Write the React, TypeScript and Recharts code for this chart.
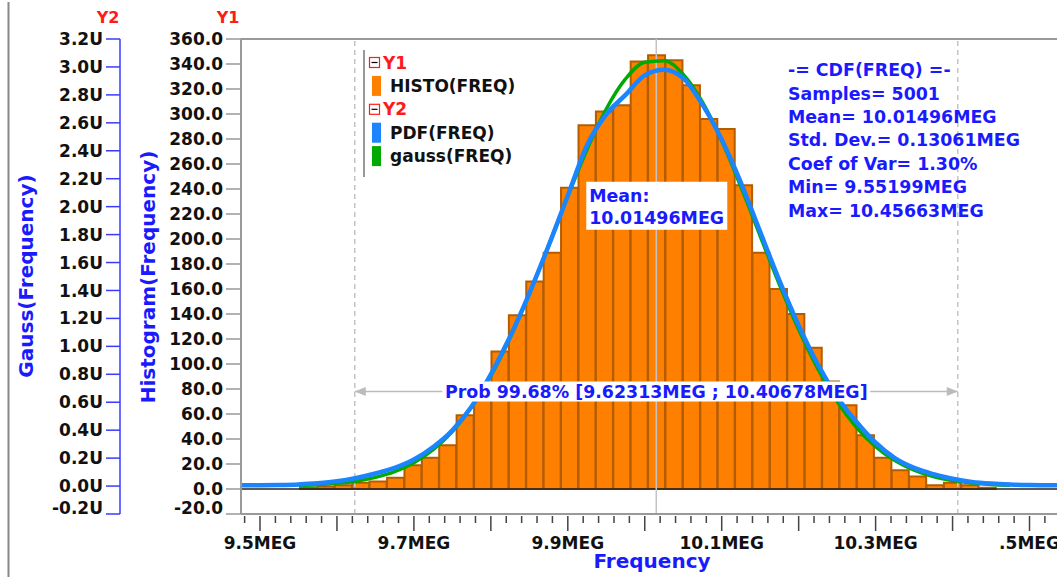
import React from 'react';
import { ComposedChart, Bar, Line, XAxis, YAxis, ReferenceLine, ReferenceDot } from 'recharts';

// Histogram of 5001 frequency samples: 40 bins (centers in MEG) and their counts
const binCenters = [
  9.5633, 9.5859, 9.6085, 9.6311, 9.6537, 9.6764, 9.699, 9.7216, 9.7442, 9.7668,
  9.7895, 9.8121, 9.8347, 9.8573, 9.8799, 9.9025, 9.9252, 9.9478, 9.9704, 9.993,
  10.0156, 10.0382, 10.0609, 10.0835, 10.1061, 10.1287, 10.1513, 10.174, 10.1966, 10.2192,
  10.2418, 10.2644, 10.287, 10.3097, 10.3323, 10.3549, 10.3775, 10.4001, 10.4228, 10.4454,
];
const binCounts = [
  1, 2, 3, 5, 6, 9, 19, 25, 35, 59,
  80, 110, 139, 166, 189, 241, 291, 302, 307, 342,
  347, 343, 323, 296, 288, 243, 189, 160, 140, 113,
  86, 67, 43, 25, 15, 10, 3, 5, 3, 1,
];

// PDF(FREQ) estimate, in U (1e-6 per Hz)
const pdfFreq = [
  9.475, 9.5, 9.525, 9.55, 9.575, 9.6, 9.625, 9.65, 9.675, 9.7,
  9.725, 9.75, 9.775, 9.8, 9.825, 9.85, 9.875, 9.9, 9.925, 9.95,
  9.975, 10.0, 10.025, 10.05, 10.075, 10.1, 10.125, 10.15, 10.175, 10.2,
  10.225, 10.25, 10.275, 10.3, 10.325, 10.35, 10.375, 10.4, 10.425, 10.45,
  10.475, 10.5, 10.525, 10.55, 10.575,
];
const pdfValues = [
  0.005, 0.006, 0.008, 0.012, 0.02, 0.034, 0.058, 0.09, 0.13, 0.19,
  0.28, 0.4, 0.57, 0.8, 1.07, 1.38, 1.72, 2.08, 2.44, 2.66,
  2.8, 2.94, 2.98, 2.92, 2.73, 2.48, 2.17, 1.82, 1.47, 1.15,
  0.87, 0.64, 0.46, 0.31, 0.2, 0.13, 0.085, 0.052, 0.03, 0.018,
  0.011, 0.007, 0.005, 0.005, 0.005,
];

// gauss(FREQ) curve, in U
const gaussFreq = [
  9.55, 9.575, 9.6, 9.625, 9.65, 9.675, 9.7, 9.725, 9.75, 9.775,
  9.8, 9.825, 9.85, 9.875, 9.9, 9.925, 9.95, 9.975, 10.0, 10.025,
  10.05, 10.075, 10.1, 10.125, 10.15, 10.175, 10.2, 10.225, 10.25, 10.275,
  10.3, 10.325, 10.35, 10.375, 10.4, 10.425, 10.45, 10.475,
];
const gaussValues = [
  0.005, 0.01, 0.02, 0.035, 0.062, 0.103, 0.167, 0.26, 0.39, 0.565,
  0.789, 1.061, 1.376, 1.72, 2.073, 2.409, 2.699, 2.914, 3.034, 3.045,
  2.946, 2.748, 2.471, 2.141, 1.79, 1.442, 1.12, 0.838, 0.605, 0.421,
  0.282, 0.183, 0.114, 0.068, 0.04, 0.022, 0.012, 0.006,
];

// Statistics of the distribution
const SAMPLES = 5001;
const MEAN = 10.01496;
const STD_DEV = 0.13061;
const COEF_VAR = 1.3;
const MIN_F = 9.55199;
const MAX_F = 10.45663;
const PROB_PCT = 99.68;
const PROB_LOW = 9.62313;
const PROB_HIGH = 10.40678;
const PROB_LEVEL = 78; // Y1 level of the probability bracket
const MEAN_TAG_LEVEL = 226.6; // Y1 level of the mean tag

// Axes
const X_DOMAIN: [number, number] = [9.4753, 10.5916];
const y1Ticks = [-20, 0, 20, 40, 60, 80, 100, 120, 140, 160, 180, 200, 220, 240, 260, 280, 300, 320, 340, 360];
const y2Ticks = [-0.2, 0, 0.2, 0.4, 0.6, 0.8, 1.0, 1.2, 1.4, 1.6, 1.8, 2.0, 2.2, 2.4, 2.6, 2.8, 3.0, 3.2];
const xMajorTicks = [9.5, 9.6, 9.7, 9.8, 9.9, 10.0, 10.1, 10.2, 10.3, 10.4, 10.5];
const xLabelTicks = [9.5, 9.7, 9.9, 10.1, 10.3, 10.5];
const xLabels = ['9.5MEG', '9.7MEG', '9.9MEG', '10.1MEG', '10.3MEG', '.5MEG'];
const xMinorTicks = Array.from({ length: 56 }, (_, i) => +(9.48 + 0.02 * i).toFixed(2));

const histData = binCenters.map((center, i) => ({ center, count: binCounts[i] }));
const pdfData = pdfFreq.map((f, i) => ({ f, pdf: pdfValues[i] }));
const gaussData = gaussFreq.map((f, i) => ({ f, gauss: gaussValues[i] }));

const FONT = '"DejaVu Sans", sans-serif';
const BLUE_TEXT = '#1a1aff';
const RED = '#ff1a1a';
const ORANGE = '#ff8000';
const PDF_BLUE = '#1a85ff';
const GAUSS_GREEN = '#00aa00';

const near = (a: number, b: number) => Math.abs(a - b) < 1e-6;

const XTick = (props: any) => {
  const { x, y, payload } = props;
  const v = payload.value;
  const major = xMajorTicks.some((t) => near(t, v));
  const li = xLabelTicks.findIndex((t) => near(t, v));
  return (
    <g>
      <line x1={x} x2={x} y1={y + 2} y2={y + (major ? 17 : 9)} stroke="#444" strokeWidth={1.5} />
      {li >= 0 && (
        <text x={x} y={y + 35} textAnchor="middle" fontFamily={FONT} fontWeight="bold" fontSize={17} fill="#111">
          {xLabels[li]}
        </text>
      )}
    </g>
  );
};

const makeYTick = (fmt: (v: number) => string, minVal: number) => (props: any) => {
  const { x, y, payload } = props;
  const shift = near(payload.value, minVal) ? -6 : 0;
  return (
    <text x={x} y={y + shift} dy="0.355em" textAnchor="end" fontFamily={FONT} fontWeight="bold" fontSize={17} fill="#111">
      {fmt(payload.value)}
    </text>
  );
};

const Y1Tick = makeYTick((v) => v.toFixed(1), -20);
const Y2Tick = makeYTick((v) => `${v.toFixed(1)}U`, -0.2);

const ProbBracket = (props: any) => {
  const { x1, y1, x2, y2 } = props;
  const mid = (x1 + x2) / 2;
  return (
    <g>
      <line x1={x1} y1={y1} x2={x2} y2={y2} stroke="#bbb" strokeWidth={1.5} />
      <polygon points={`${x1},${y1} ${x1 + 11},${y1 - 4.5} ${x1 + 11},${y1 + 4.5}`} fill="#bbb" />
      <polygon points={`${x2},${y2} ${x2 - 11},${y2 - 4.5} ${x2 - 11},${y2 + 4.5}`} fill="#bbb" />
      <rect x={mid - 214} y={y1 - 10} width={428} height={20} fill="#fff" />
      <text x={mid} y={y1} dy="0.355em" textAnchor="middle" fontFamily={FONT} fontWeight="bold" fontSize={17.4} fill={BLUE_TEXT}>
        {`Prob ${PROB_PCT.toFixed(2)}% [${PROB_LOW.toFixed(5)}MEG ; ${PROB_HIGH.toFixed(5)}MEG]`}
      </text>
    </g>
  );
};

const MeanTag = (props: any) => {
  const { cx, cy } = props;
  return (
    <g>
      <rect x={cx - 70} y={cy - 24} width={141} height={48} fill="#fff" />
      <text x={cx - 67} y={cy - 10} dy="0.355em" fontFamily={FONT} fontWeight="bold" fontSize={17.4} fill={BLUE_TEXT}>
        Mean:
      </text>
      <text x={cx - 67} y={cy + 12} dy="0.355em" fontFamily={FONT} fontWeight="bold" fontSize={17.4} fill={BLUE_TEXT}>
        {`${MEAN.toFixed(5)}MEG`}
      </text>
    </g>
  );
};

const statLines = [
  '-= CDF(FREQ) =-',
  `Samples= ${SAMPLES}`,
  `Mean= ${MEAN.toFixed(5)}MEG`,
  `Std. Dev.= ${STD_DEV.toFixed(5)}MEG`,
  `Coef of Var= ${COEF_VAR.toFixed(2)}%`,
  `Min= ${MIN_F.toFixed(5)}MEG`,
  `Max= ${MAX_F.toFixed(5)}MEG`,
];

const legendItems = [
  { group: 'Y1', entries: [{ name: 'HISTO(FREQ)', color: ORANGE }] },
  { group: 'Y2', entries: [{ name: 'PDF(FREQ)', color: PDF_BLUE }, { name: 'gauss(FREQ)', color: GAUSS_GREEN }] },
];

const Overlay = () => {
  let row = 0;
  const rowY = (r: number) => 62.5 + r * 23.4;
  return (
    <svg width={1057} height={579} style={{ position: 'absolute', left: 0, top: 0, pointerEvents: 'none' }}>
      <line x1={8.5} y1={2} x2={8.5} y2={577} stroke="#888" strokeWidth={2} />
      <text x={108} y={17} dy="0.355em" textAnchor="middle" fontFamily={FONT} fontWeight="bold" fontSize={16} fill={RED}>Y2</text>
      <text x={228} y={17} dy="0.355em" textAnchor="middle" fontFamily={FONT} fontWeight="bold" fontSize={16} fill={RED}>Y1</text>
      <text transform="translate(26,276) rotate(-90)" dy="0.355em" textAnchor="middle" fontFamily={FONT} fontWeight="bold" fontSize={20} fill={BLUE_TEXT}>
        Gauss(Frequency)
      </text>
      <text transform="translate(148,277) rotate(-90)" dy="0.355em" textAnchor="middle" fontFamily={FONT} fontWeight="bold" fontSize={20} fill={BLUE_TEXT}>
        Histogram(Frequency)
      </text>
      <text x={652} y={561} dy="0.355em" textAnchor="middle" fontFamily={FONT} fontWeight="bold" fontSize={20} fill={BLUE_TEXT}>
        Frequency
      </text>

      {/* legend */}
      <line x1={364} y1={50} x2={364} y2={177} stroke="#999" strokeWidth={2} />
      {legendItems.map((g) => {
        const gy = rowY(row++);
        return (
          <g key={g.group}>
            <rect x={369.5} y={gy - 5} width={10} height={10} fill="#fff" stroke={RED} strokeWidth={1.2} />
            <line x1={371.5} y1={gy} x2={377.5} y2={gy} stroke="#000" strokeWidth={1.2} />
            <text x={383} y={gy} dy="0.355em" fontFamily={FONT} fontWeight="bold" fontSize={17} fill={RED}>{g.group}</text>
            {g.entries.map((e) => {
              const ey = rowY(row++);
              return (
                <g key={e.name}>
                  <rect x={372} y={ey - 10} width={9} height={20} fill={e.color} />
                  <text x={390} y={ey} dy="0.355em" fontFamily={FONT} fontWeight="bold" fontSize={17} fill="#111">{e.name}</text>
                </g>
              );
            })}
          </g>
        );
      })}

      {/* statistics */}
      {statLines.map((s, i) => (
        <text key={s} x={788} y={70 + i * 23.4} dy="0.355em" fontFamily={FONT} fontWeight="bold" fontSize={17.4} fill={BLUE_TEXT}>
          {s}
        </text>
      ))}
    </svg>
  );
};

export default function App() {
  return (
    <div style={{ position: 'absolute', left: 0, top: 0, width: 1057, height: 579, overflow: 'hidden', background: '#fff' }}>
      <ComposedChart
        width={1100}
        height={579}
        data={histData}
        margin={{ top: 39, right: 0, bottom: 0, left: 20 }}
        barCategoryGap={0}
        barGap={0}
      >
        <XAxis
          xAxisId="main"
          type="number"
          dataKey="center"
          domain={X_DOMAIN}
          allowDataOverflow
          ticks={xMinorTicks}
          interval={0}
          tick={<XTick />}
          tickLine={false}
          tickSize={0}
          tickMargin={0}
          height={65}
          axisLine={{ stroke: '#999', strokeWidth: 2 }}
        />
        <XAxis
          xAxisId="curve"
          type="number"
          dataKey="f"
          domain={X_DOMAIN}
          allowDataOverflow
          orientation="top"
          height={0}
          hide
        />
        <YAxis
          yAxisId="y1"
          type="number"
          domain={[-20, 360]}
          allowDataOverflow
          ticks={y1Ticks}
          interval={0}
          width={121}
          tickSize={15}
          tickMargin={3}
          tick={<Y1Tick />}
          tickLine={{ stroke: '#999', strokeWidth: 1.5 }}
          axisLine={{ stroke: '#999', strokeWidth: 2 }}
        />
        <YAxis
          yAxisId="y2"
          type="number"
          domain={[-0.2, 3.2]}
          allowDataOverflow
          ticks={y2Ticks}
          interval={0}
          width={100}
          tickSize={14}
          tickMargin={3}
          tick={<Y2Tick />}
          tickLine={{ stroke: '#3a3aff', strokeWidth: 1.5 }}
          axisLine={{ stroke: '#3a3aff', strokeWidth: 1.5 }}
        />

        <ReferenceLine xAxisId="main" yAxisId="y1" y={360} stroke="#999" strokeWidth={2} />

        <Bar
          xAxisId="main"
          yAxisId="y1"
          dataKey="count"
          fill={ORANGE}
          stroke="#b35c00"
          strokeWidth={2}
          isAnimationActive={false}
        />

        <ReferenceLine xAxisId="main" yAxisId="y1" y={0} stroke="#222" strokeWidth={1.5} />
        <ReferenceLine xAxisId="main" yAxisId="y1" x={PROB_LOW} stroke="#c4c4c4" strokeWidth={1.5} strokeDasharray="5 4" />
        <ReferenceLine xAxisId="main" yAxisId="y1" x={PROB_HIGH} stroke="#c4c4c4" strokeWidth={1.5} strokeDasharray="5 4" />
        <ReferenceLine xAxisId="main" yAxisId="y1" x={MEAN} stroke="#c4c4c4" strokeWidth={1.5} />

        <Line
          xAxisId="curve"
          yAxisId="y2"
          data={gaussData}
          dataKey="gauss"
          type="monotone"
          stroke={GAUSS_GREEN}
          strokeWidth={3.5}
          dot={false}
          isAnimationActive={false}
        />
        <Line
          xAxisId="curve"
          yAxisId="y2"
          data={pdfData}
          dataKey="pdf"
          type="monotone"
          stroke={PDF_BLUE}
          strokeWidth={4.5}
          dot={false}
          isAnimationActive={false}
        />

        <ReferenceLine
          xAxisId="main"
          yAxisId="y1"
          segment={[{ x: PROB_LOW, y: PROB_LEVEL }, { x: PROB_HIGH, y: PROB_LEVEL }]}
          shape={<ProbBracket />}
        />
        <ReferenceDot xAxisId="main" yAxisId="y1" x={MEAN} y={MEAN_TAG_LEVEL} r={0} shape={<MeanTag />} />
      </ComposedChart>
      <Overlay />
    </div>
  );
}
